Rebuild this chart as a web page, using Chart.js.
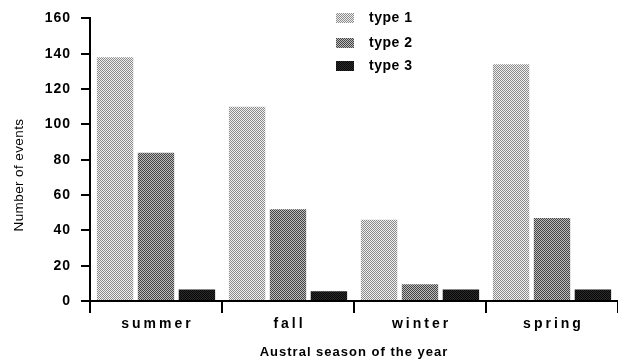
<!DOCTYPE html>
<html>
<head>
<meta charset="utf-8">
<script src="https://cdn.jsdelivr.net/npm/chart.js@4/dist/chart.umd.min.js"></script>
<style>
  html, body { margin: 0; padding: 0; background: #fff; }
  #wrap { width: 618px; height: 360px; }
</style>
</head>
<body>
<div id="wrap"><canvas id="c"></canvas></div>
<script>
// data
const seasons = ['summer', 'fall', 'winter', 'spring'];
const type1 = [138, 110, 46, 134];
const type2 = [84, 52, 9.5, 47];
const type3 = [6.5, 5.5, 6.5, 6.5];
const seriesNames = ['type 1', 'type 2', 'type 3'];
const yTicks = [0, 20, 40, 60, 80, 100, 120, 140, 160];

const FONT = "'Liberation Sans', Arial, sans-serif";

// halftone-ish fills, like the printed figure
function halftone(dark, light) {
  const c = document.createElement('canvas');
  c.width = 2; c.height = 2;
  const g = c.getContext('2d');
  g.fillStyle = light; g.fillRect(0, 0, 2, 2);
  g.fillStyle = dark;
  g.fillRect(0, 0, 1, 1);
  g.fillRect(1, 1, 1, 1);
  return g.createPattern(c, 'repeat');
}
const fills = [
  halftone('#8a8a8a', '#f0f0f0'),
  halftone('#444', '#bcbcbc'),
  halftone('#080808', '#2c2c2c'),
];

// legend column, spaced-out season labels and the y title
const extras = {
  id: 'extras',
  beforeDraw(chart) { chart.ctx.letterSpacing = '1px'; },
  afterDraw(chart) {
    const ctx = chart.ctx;
    ctx.save();
    ctx.fillStyle = '#000';
    ctx.textBaseline = 'middle';

    // legend
    ctx.letterSpacing = '0.5px';
    ctx.font = 'bold 14px ' + FONT;
    const rows = [18, 43, 66];
    chart.data.datasets.forEach((ds, i) => {
      ctx.fillStyle = ds.backgroundColor;
      ctx.fillRect(336, rows[i] - 5, 18, 10);
      ctx.fillStyle = '#000';
      ctx.textAlign = 'left';
      ctx.fillText(ds.label, 369, rows[i]);
    });

    // category labels
    const x = chart.scales.x;
    ctx.letterSpacing = '3px';
    ctx.textAlign = 'center';
    chart.data.labels.forEach((lab, i) => {
      ctx.fillText(lab, x.getPixelForTick(i) + 1.5, 324);
    });

    // y title
    ctx.letterSpacing = '0.4px';
    ctx.font = '13.5px ' + FONT;
    ctx.translate(19, 175);
    ctx.rotate(-Math.PI / 2);
    ctx.fillText('Number of events', 0, 0);
    ctx.restore();
    ctx.letterSpacing = '0px';
  }
};

new Chart(document.getElementById('c'), {
  type: 'bar',
  data: {
    labels: seasons,
    datasets: [
      { label: seriesNames[0], data: type1, backgroundColor: fills[0] },
      { label: seriesNames[1], data: type2, backgroundColor: fills[1] },
      { label: seriesNames[2], data: type3, backgroundColor: fills[2] },
    ],
  },
  options: {
    responsive: true,
    maintainAspectRatio: false,
    animation: false,
    events: [],
    layout: { padding: { top: 14, right: 0, bottom: 0, left: 0 } },
    datasets: { bar: { categoryPercentage: 0.93, barPercentage: 0.89, borderWidth: 0 } },
    plugins: { legend: { display: false }, tooltip: { enabled: false } },
    scales: {
      x: {
        grid: { display: true, offset: true, drawOnChartArea: false, drawTicks: true, tickLength: 12, lineWidth: 2, color: '#000' },
        border: { display: true, width: 2, color: '#000' },
        ticks: { display: false },
        title: { display: true, text: 'Austral season of the year', color: '#000',
                 font: { family: FONT, size: 13, weight: 'bold' }, padding: { top: 0, bottom: 0 } },
        afterFit(scale) { scale.height = 59; },
      },
      y: {
        min: 0, max: 160,
        afterBuildTicks(scale) { scale.ticks = yTicks.map(v => ({ value: v })); },
        grid: { display: true, drawOnChartArea: false, drawTicks: true, tickLength: 9, lineWidth: 2, color: '#000' },
        border: { display: true, width: 2, color: '#000' },
        ticks: { color: '#000', font: { family: FONT, size: 14, weight: 'bold' }, padding: 10 },
        title: { display: false },
        afterFit(scale) { scale.width = 90; },
      },
    },
  },
  plugins: [extras],
});
</script>
</body>
</html>
